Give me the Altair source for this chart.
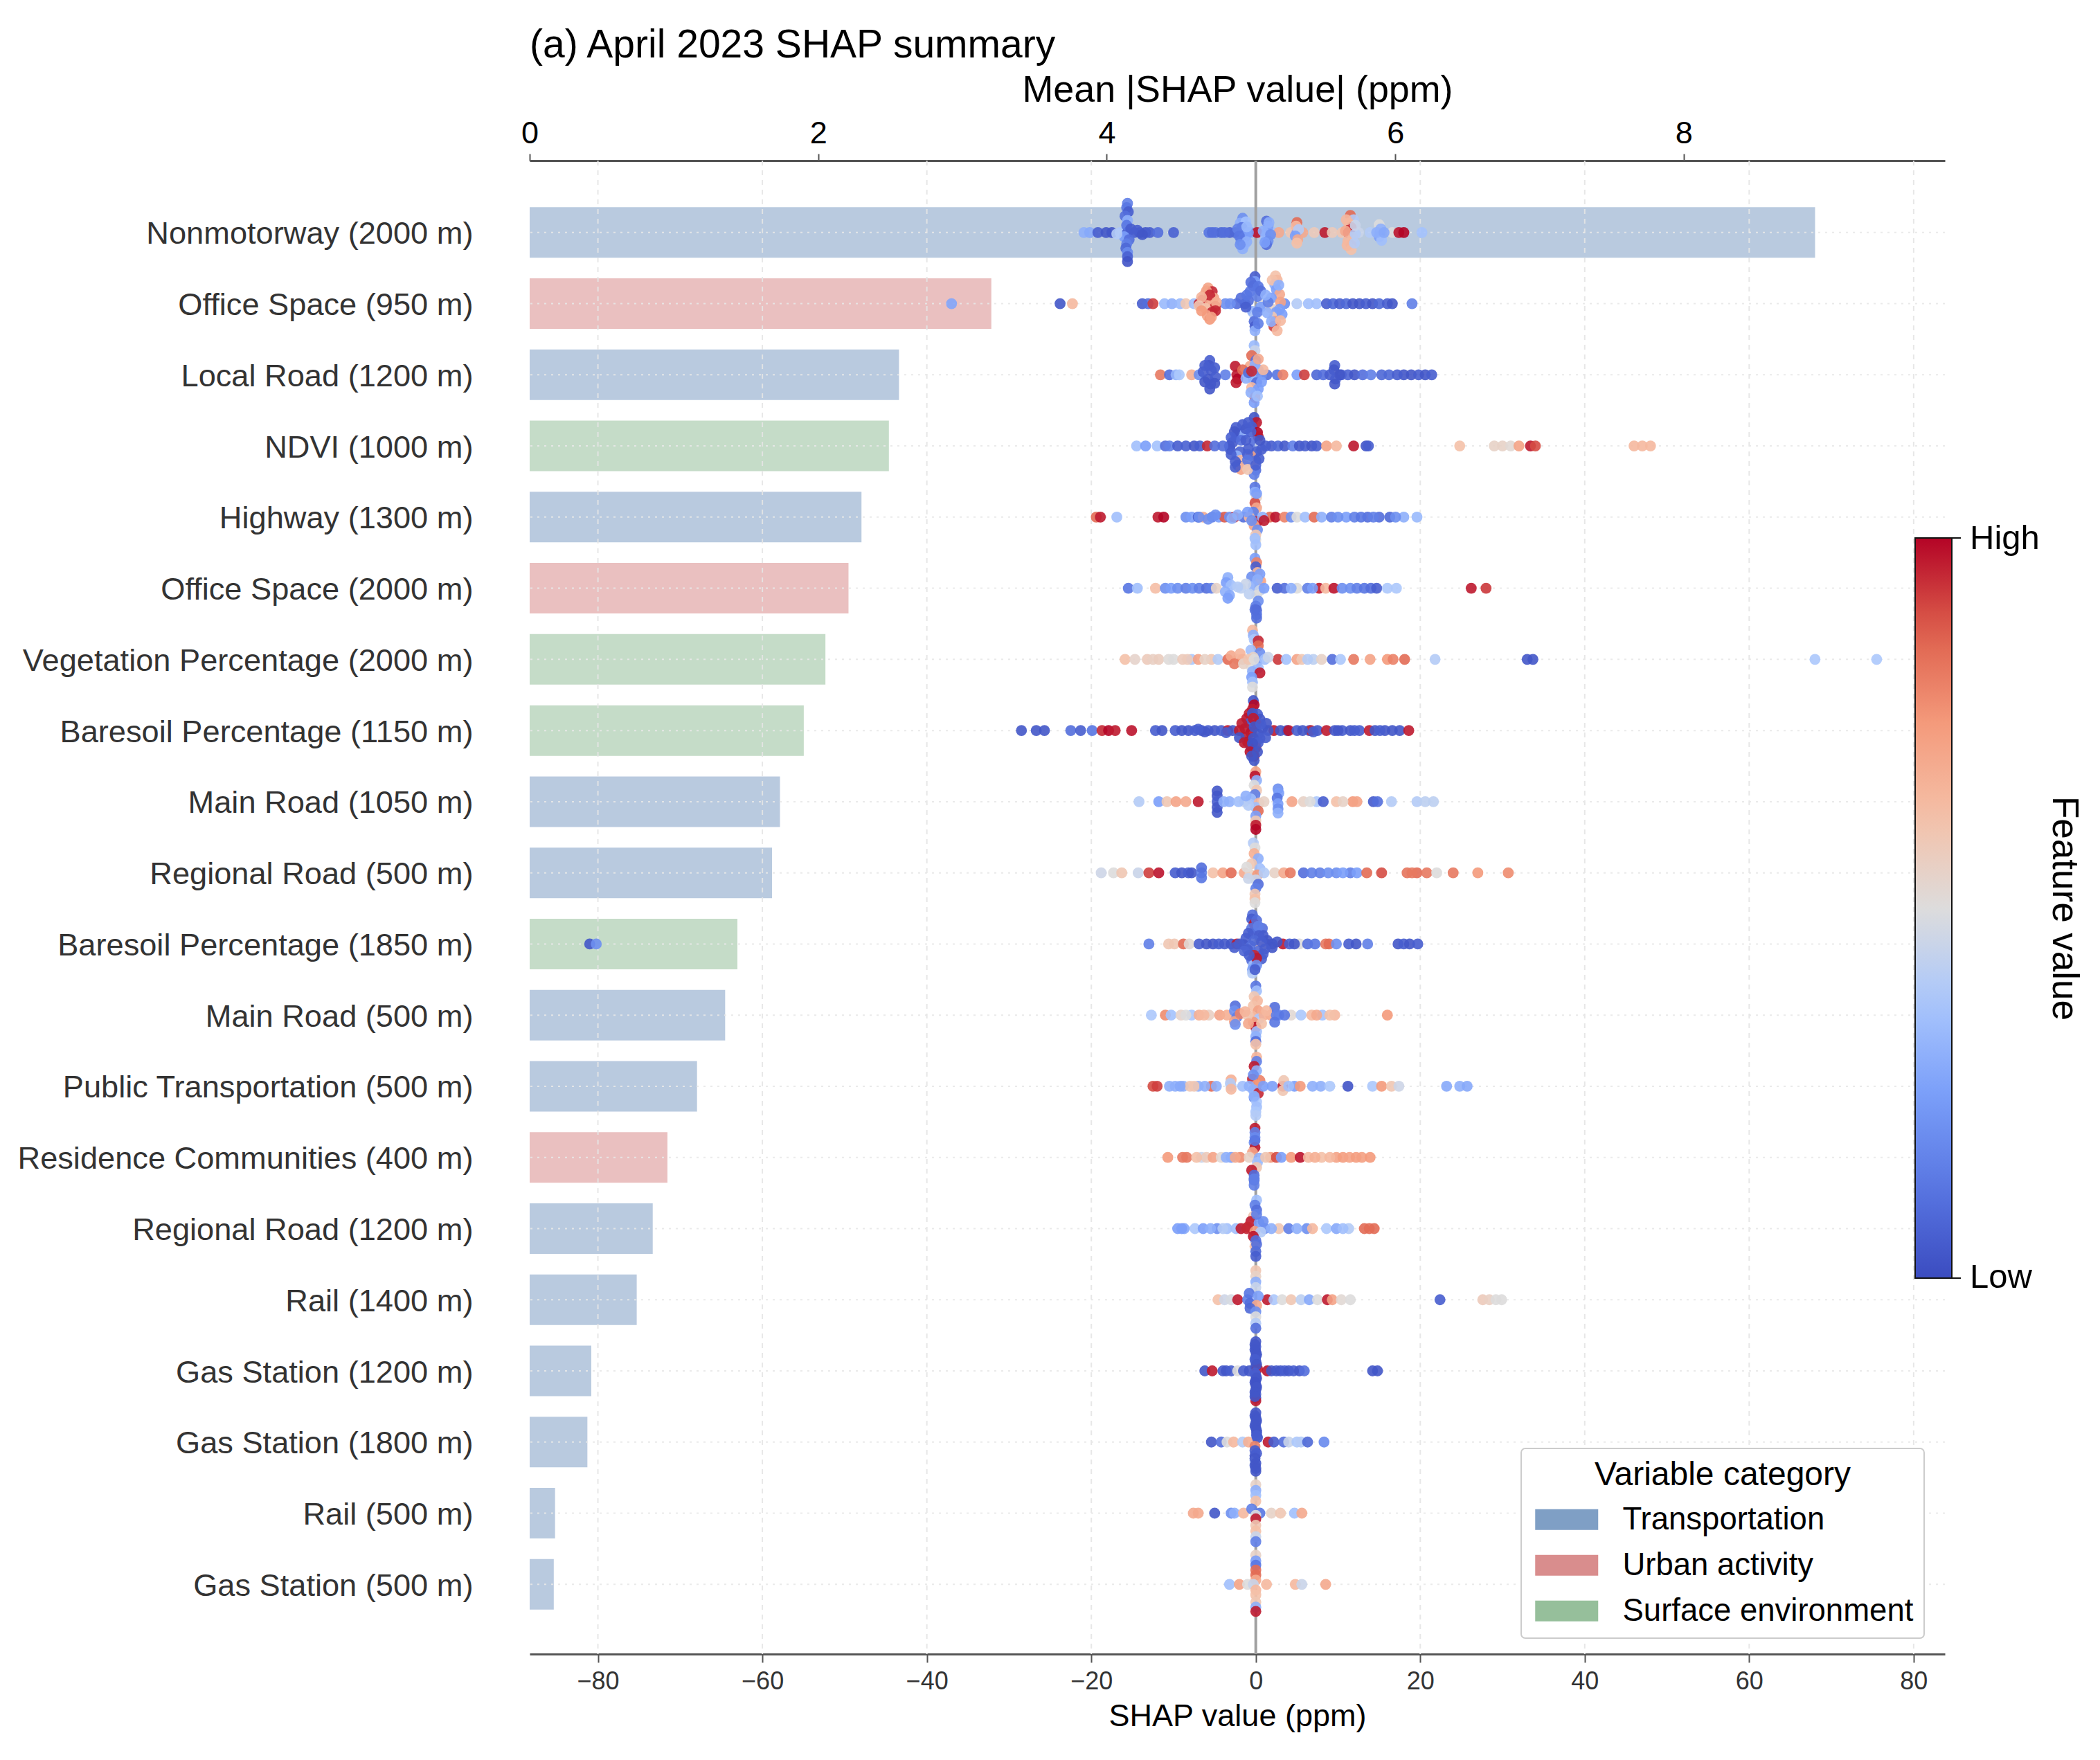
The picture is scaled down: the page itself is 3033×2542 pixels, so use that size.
import json
import altair as alt
import pandas as pd

FONT = "Liberation Sans"
features = ["Nonmotorway (2000 m)", "Office Space (950 m)", "Local Road (1200 m)", "NDVI (1000 m)",
            "Highway (1300 m)", "Office Space (2000 m)", "Vegetation Percentage (2000 m)",
            "Baresoil Percentage (1150 m)", "Main Road (1050 m)", "Regional Road (500 m)",
            "Baresoil Percentage (1850 m)", "Main Road (500 m)", "Public Transportation (500 m)",
            "Residence Communities (400 m)", "Regional Road (1200 m)", "Rail (1400 m)",
            "Gas Station (1200 m)", "Gas Station (1800 m)", "Rail (500 m)", "Gas Station (500 m)"]
T, U, S = "Transportation", "Urban activity", "Surface environment"
categories = [T, U, T, S, T, U, S, S, T, T, S, T, T, U, T, T, T, T, T, T]
mean_shap = [8.91, 3.20, 2.56, 2.49, 2.30, 2.21, 2.05, 1.90, 1.735, 1.68,
             1.44, 1.355, 1.16, 0.955, 0.853, 0.742, 0.427, 0.40, 0.176, 0.167]
cat_order = [T, U, S]
cat_colors = ["#7f9fc5", "#d98d8d", "#96bf9b"]
top_ticks = [0, 2, 4, 6, 8]
bottom_ticks = [-80, -60, -40, -20, 0, 20, 40, 60, 80]

# (shap, feature value) on the row's centre line
line_00 = [(-20.9,.3),(-20.2,.28),(-19.2,.05),(-18.2,.03),(-17.5,.03),(-16.5,.38),(-15.6,.05),(-14.8,.05),(-14.1,.03),(-13.4,.03),(-12.9,.05),(-11.9,.1),(-10.0,.06),
           (-5.7,.12),(-4.9,.12),(-4.2,.08),(-3.2,.06),(-2.5,.08),(-1.5,.2),(-.6,.3),(.15,.98),(1.35,.25),(2.1,.35),(2.8,.7),(4.25,.6),(5,.25),(5.7,.7),(7.1,.58),(8.4,.97),(9.3,.58),(10.5,.6),(11.25,.95),(12.5,.45),(13.9,.4),(15.1,.25),(16.6,.5),(17.4,.98),(18,1.0),(20.2,.36)]
arm_00 = [(-15.6,-.41,.15),(-15.7,-.35,.12),(-15.5,-.29,.05),(-15.9,-.23,.1),(-15.6,-.17,.3),(-15.7,-.1,.12),(-15.2,-.05,.05),(-16,.06,.25),(-15.4,.1,.1),(-15.7,.16,.15),(-15.8,.22,.08),(-15.6,.28,.18),(-15.6,.34,.06),(-15.6,.41,.02),
          (-1.6,-.2,.2),(-1.9,-.13,.3),(-1.2,-.15,.36),(-1.7,-.07,.12),(-1.3,.06,.25),(-1.8,.12,.2),(-1.4,.18,.33),(-1.6,.23,.3),(1.3,-.16,.1),(1.5,-.09,.25),(1.2,.06,.33),(1.5,.12,.2),(1.3,.17,.1),
          (5,-.14,.85),(4.9,-.09,.65),(5.2,-.04,.4),(4.8,.05,.25),(5.1,.1,.7),(5,.15,.62),
          (11.5,-.24,.85),(11.9,-.18,.4),(11.3,-.13,.65),(11.6,-.07,.95),(11.8,.07,.6),(11.2,.12,.65),(11.6,.18,.72),(11.6,.24,.62),
          (15,-.11,.5),(15.2,-.05,.3),(15,.06,.25),(15.3,.11,.35)]
extra_00 = [(-16.9,.02,.4),(-14.4,-.03,.05),(-13.8,.03,.03),(-2.2,-.05,.15),(-.9,.0,.25),(-1.1,-.08,.33),(-2,.05,.12),(-1.1,.13,.3),(-1.9,.17,.2),(.9,-.02,.3),(1.8,.03,.2),(1.6,-.14,.3),(1.1,.14,.25),(10.9,-.02,.7),(12.1,.02,.4),(11,-.18,.65),(12.1,-.1,.45),(11.1,.18,.65),(12,.15,.4),(14.7,.0,.3),(15.6,.0,.28),(-3.8,.0,.1),(-5.3,.0,.1)]
line_01 = [(-37.0,.27),(-23.8,.03),(-22.3,.65),(-13.8,.05),(-13.1,.1),(-12.5,.92),(-11.1,.33),(-10.2,.3),(-9.2,.33),(-8.5,.6),(-7.5,.35),(-6.9,.95),(-3.7,.2),(-2.3,.1),(-1.3,.08),(.9,.5),(3.5,.2),(5,.4),(6.4,.35),(7.4,.35),(8.6,.05),(9.4,.08),(10.2,.05),(11,.08),(11.8,.03),(12.6,.03),(13.4,.05),(14.2,.03),(15,.08),(16,.05),(16.6,.03),(19,.15)]
arm_01 = [(-5.8,-.22,.72),(-5.3,-.17,.95),(-6.2,-.13,.65),(-5.1,-.08,.72),(-6.5,-.05,.95),(-5.6,.01,.7),(-4.9,.04,.92),(-6.1,.07,.62),(-5.3,.12,.95),(-5.9,.17,.72),(-5.6,.22,.75),
          (-.1,-.38,.05),(-.1,-.31,.25),(-.3,-.25,.1),(-.7,-.17,.12),(.2,-.1,.15),(-.9,-.04,.1),(.6,.05,.25),(-.4,.11,.3),(-.1,.18,.4),(-.2,.25,.1),(-.1,.32,.05),(-.1,.38,.3),
          (2.4,-.39,.62),(2.6,-.33,.65),(2.3,-.27,.3),(2.5,-.2,.25),(2.9,-.13,.7),(1.9,-.08,.25),(3,-.02,.72),(1.8,.06,.55),(2.5,.12,.25),(2.2,.19,.6),(2.4,.25,.75),(2.2,.32,.92),(2.6,.38,.65)]
extra_01 = [(-6,-.18,.72),(-5.6,-.12,.95),(-6.6,-.09,.66),(-4.8,-.02,.68),(-6.9,.03,.6),(-6.6,.1,.75),(-4.9,.1,.95),(-5.4,.19,.72),(-3.1,.0,.2),(-1.8,-.08,.1),(-1.1,-.12,.12),(-.6,-.3,.1),(.3,-.24,.12),(-1.2,.05,.05),(.2,.12,.15),(.3,.28,.15),(.6,-.18,.1),(1.5,-.02,.15),(1.2,-.12,.3),(1.4,.13,.3),(2.9,.08,.25),(3.2,.15,.25),(1.9,.25,.3),(2,-.33,.62),(3,.24,.65),(2.8,-.26,.3)]
line_02 = [(-11.6,.82),(-10.5,.1),(-9.7,.32),(-9.3,.38),(-7.8,.68),(-6.9,.2),(-3.7,.15),(-2.3,.97),(1.35,.1),(2.6,.12),(3.3,.8),(5,.25),(5.9,.92),(7.4,.08),(8.2,.1),(10.4,.05),(11.2,.07),(12,.03),(13,.1),(14,.15),(15.3,.08),(16.2,.08),(18,.03),(18.9,.03),(19.8,.05),(20.6,.03),(21.4,.05)]
arm_02 = [(-5.6,-.2,.05),(-5.7,-.13,.03),(-5.4,-.06,.05),(-5.8,.06,.03),(-5.5,.13,.05),(-5.6,.2,.03),
          (-2.5,-.12,.97),(-2.2,.06,1),(-2.4,.11,.97),
          (-.2,-.41,.33),(-.1,-.34,.45),(-.5,-.27,.85),(0,-.2,.1),(-.7,-.12,.7),(.3,-.07,.25),(-.3,.06,.3),(.1,.11,.1),(-.5,.18,.65),(0,.25,.3),(-.1,.32,.85),(-.2,.39,.25),
          (9.6,-.13,.05),(9.5,-.07,.03),(9.7,.06,.05),(9.6,.13,.03)]
extra_02 = [(-6.4,-.04,.05),(-4.9,.03,.05),(-6.2,.1,.03),(-5,-.1,.05),(-6.2,-.13,.05),(-5,.12,.03),(-1.6,-.07,.85),(-1.2,.05,.3),(-.9,-.03,.1),(.7,.0,.2),(.9,-.07,.65),(.7,.1,.25),(-.1,-.14,.3),(.3,.2,.25),(-.6,.25,.3),(.3,-.22,.7),(.2,.3,.35),(-.5,-.05,.95),(10.2,.0,.03),(9,.0,.05),(17.2,.0,.05)]
line_03 = [(-14.5,.35),(-13.4,.25),(-12,.36),(-11,.1),(-10.5,.15),(-9.5,.05),(-8.5,.06),(-7.5,.03),(-6.8,.05),(-5.9,.95),(-5,.1),(1.9,.05),(2.7,.08),(3.5,.04),(4.5,.15),(5.3,.03),(6,.05),(6.8,.03),(7.4,.05),(8.6,.72),(9.8,.65),(11.9,.97),(13.4,.03),(13.7,.05),
           (24.8,.62),(29,.55),(30,.55),(31,.52),(32,.72),(33.4,.97),(34,.9),(46,.65),(47,.65),(48,.65)]
arm_03 = [(-2.2,-.18,.03),(-2.4,-.12,.05),(-1.5,-.16,.3),(-2.8,-.05,.04),(-1.8,-.08,.1),(-3.1,.05,.03),(-1.9,.08,.06),(-2.3,.14,.3),(-1.8,.2,.65),(-2.2,.27,.03),(-1.8,.33,.72),(-1.3,.28,.66),
          (-.2,-.4,.03),(.1,-.33,.97),(-.5,-.27,.05),(.2,-.19,1),(.3,-.13,.97),(-.2,-.06,.1),(.5,.0,.45),(.1,.08,.06),(-.6,.14,.72),(0,.21,.08),(-.3,.28,.65),(0,.34,.1),(-.2,.4,.15)]
extra_03 = [(-2.4,-.26,.05),(-1.6,-.3,.05),(-2.6,-.2,.03),(-1.2,-.24,.04),(-3,-.12,.06),(-1.2,-.08,.05),(-3.2,0,.04),(-4,.0,.1),(-.9,.04,.05),(-3,.12,.05),(-1,.12,.06),(-2.5,.22,.05),(-1,.2,.12),(-2.5,.3,.05),(-.6,-.2,.06),(-.9,-.33,.05),(.7,.05,.05),(1.2,.0,.05),(.5,-.08,.03),(.4,.18,.05),(-1,.33,.6),(0,.27,.06)]
line_04 = [(-19.4,.85),(-18.9,.97),(-16.9,.35),(-11.9,.97),(-11.2,1),(-8.5,.2),(-7.8,.25),(-7,.05),(-6.4,.7),(-5.3,.15),(-4.5,.25),(-3.8,.88),(-3.2,.2),(-2.6,.95),(-1.5,.1),(1.7,.85),(2.4,.98),(3.5,.8),(4.3,.2),(5,.5),(6,.35),(7.1,.85),(8,.3),(9.2,.15),(11,.25),(12,.15),(13.6,.1),(15,.1),(16.3,.08),(18,.3),(19.6,.33)]
arm_04 = [(-.1,-.42,.12),(-.1,-.35,.3),(.1,-.28,.55),(-.1,-.2,.9),(.1,-.13,.7),(-.3,-.07,.15),(.2,.06,.95),(-.2,.12,.72),(.2,.18,.2),(0,.25,.6),(0,.32,.5),(0,.39,.35)]
extra_04 = [(-.8,.0,.65),(.8,.0,.3),(-2.2,-.03,.3),(-1,-.07,.25),(1,.05,.97),(-5.8,.03,.2),(-4.9,-.03,.2),(-2.9,.02,.3),(-.5,.05,.2),(10,.0,.2),(14.3,.0,.15),(12.8,.0,.12),(17,.0,.2),(-6.9,.0,.2),(-.1,.3,.35),(.1,-.33,.25)]
line_05 = [(-15.5,.12),(-14.4,.35),(-12.2,.63),(-11,.2),(-10.3,.25),(-9.5,.2),(-8.5,.15),(-7.7,.2),(-6.9,.15),(-6,.1),(-5.4,.15),(-4.8,.55),(2.6,.05),(3.5,.1),(5,.5),(6.3,.15),(7.7,.97),(8.5,.65),(9.5,.98),(11.5,.2),(12.3,.15),(13.2,.12),(14,.1),(14.7,.05),(16,.38),(17.1,.38),(26.2,.97),(28,.93)]
arm_05 = [(-3.4,-.15,.3),(-3.6,-.08,.25),(-3,-.04,.35),(-3.7,.05,.3),(-3.2,.1,.28),(-3.4,.14,.25),
          (-.1,-.42,.25),(.1,-.36,.8),(0,-.3,.05),(.2,-.22,.65),(-.5,-.16,.2),(.6,-.1,.72),(-.3,-.03,.3),(.5,.03,.45),(.1,.1,.5),(.3,.18,.2),(0,.25,.15),(.1,.31,.08),(.1,.37,.12),(.1,.42,.1)]
extra_05 = [(-1.8,.0,.42),(-1.2,-.06,.45),(-2.2,-.02,.4),(1,.0,.25),(-.8,.08,.42),(.5,-.2,.25),(4.3,.0,.3),(10.5,.0,.2),(6.9,.0,.25),(-.1,.3,.1),(.2,-.12,.3)]
line_06 = [(-15.9,.62),(-14.7,.54),(-13.2,.58),(-12.5,.56),(-11.8,.57),(-10.6,.51),(-10,.5),(-8.9,.58),(-7.8,.38),(-7,.72),(-5.4,.6),(-4.6,.4),(-3.4,.85),(-2.2,.6),(-1.6,.75),(2.7,.93),(3.7,.36),(5,.72),(5.6,.6),(7,.42),(8,.55),(9.3,.1),(10.3,.38),(11.9,.82),(13.9,.72),(16,.75),(16.7,.8),(18.1,.85),(21.8,.4),(33,.03),(33.7,.03),(68,.38),(75.5,.38)]
arm_06 = [(-.4,-.41,.65),(-.3,-.34,.3),(-.2,-.28,.38),(.3,-.26,.95),(.3,-.19,.85),(-.6,-.13,.35),(.5,-.09,.2),(-.3,-.03,.55),(.1,.04,.2),(-.6,.09,.5),(.3,.12,.35),(-.4,.17,.3),(.5,.19,.97),(-.5,.25,.25),(-.4,.32,.35),(-.4,.39,.5)]
extra_06 = [(-3,-.05,.7),(-2.6,.06,.82),(-1.9,-.08,.66),(-1.5,.06,.55),(-.9,.0,.6),(1.1,.0,.35),(1.5,-.03,.45),(-6.2,.0,.55),(-8.3,.0,.58),(6.3,.0,.4),(-.2,.0,.5)]
line_07 = [(-28.5,.03),(-26.7,.03),(-25.7,.03),(-22.5,.1),(-21.3,.05),(-19.9,.12),(-18.7,.95),(-17.9,1),(-17.1,.97),(-15.1,.98),(-12.2,.05),(-11.4,.03),(-9.8,.05),(-9,.03),(-8.2,.03),(-7.4,.05),(-6.6,.03),(-5.8,.05),(-5,.03),(-4.2,.05),(-3.4,.97),(-2.8,.03),(2.2,.97),(3,.03),(3.8,.03),(4,.98),(5,.05),(6.5,.03),(6.7,.95),(7.5,.03),(8.6,.97),(9.6,.03),(10.5,.05),(11.5,.03),(12.6,.05),(13.8,.97),(15.7,.03),(16.6,.03),(17.5,.03),(18.6,.97)]
arm_07 = [(-.3,-.42,.03),(-.2,-.36,1),(-.4,-.3,.97),(-.8,-.24,.97),(.2,-.23,.05),(-1.1,-.17,.98),(.5,-.16,.03),(-.8,-.1,.05),(.1,-.09,.97),(-1.3,-.03,.97),(.8,-.03,.05),(-.6,.03,.98),(.3,.05,.03),(-1.2,.09,.97),(.5,.11,.05),(-1,.16,.98),(0,.17,.03),(-.6,.23,.03),(0,.24,.97),(-.3,.3,.03),(-.2,.36,.97),(-.2,.42,.03)]
extra_07 = [(-.4,-.24,.03),(-.3,-.17,.97),(-1.7,-.1,.97),(-2,.0,.97),(1.3,-.1,.03),(1.5,.0,.03),(1.2,.1,.05),(-2,.1,.03),(-.2,-.05,.03),(.6,-.09,.05),(-.3,.11,.03),(.3,.17,.05),(-1.4,.17,.97),(-.4,.18,.02),(-.7,.3,.98),(.2,.3,.03),(-.5,.36,.03),(-3.6,.03,.05),(-6.2,.02,.03),(-7,-.02,.05),(5.7,.0,.03),(7,.02,.05),(10,.0,.03),(12,.0,.05),(14.5,.0,.03),(15.1,.0,.05)]
line_08 = [(-14.2,.4),(-11.8,.25),(-10.8,.6),(-9.7,.72),(-8.5,.7),(-7,.97),(-3.2,.3),(-1.4,.45),(4.4,.72),(5.8,.55),(7.4,.38),(8.2,.05),(9.8,.62),(11.8,.75),(12.3,.72),(14.3,.04),(14.8,.1),(16.5,.4),(19.6,.4),(20.6,.42),(21.6,.42)]
arm_08 = [(-4.7,-.15,.03),(-4.7,-.08,.03),(-4.7,0,.05),(-4.7,.08,.03),(-4.7,.15,.03),
          (0,-.42,.72),(-.1,-.36,.98),(.1,-.3,.3),(-.2,-.23,.5),(.1,-.16,.6),(-.1,-.1,.15),(-.6,-.04,.35),(.4,.02,.65),(0,.08,.35),(.3,.13,.85),(0,.2,.25),(0,.27,.6),(0,.33,.97),(0,.39,1),
          (2.7,-.18,.2),(2.8,-.12,.25),(2.6,-.05,.12),(2.7,.03,.25),(2.7,.1,.2),(2.7,.16,.3)]
extra_08 = [(-.9,.05,.4),(-2.1,.0,.35),(1,.0,.55),(-1.2,-.08,.3),(-3.9,.0,.3),(6.6,.0,.5),(10.6,.0,.55)]
line_09 = [(-18.8,.46),(-17.3,.5),(-16.3,.6),(-14.3,.45),(-13,.92),(-11.8,.98),(-9.8,.05),(-9,.03),(-8.2,.05),(-7.8,.03),(-6.6,.15),(-5.2,.62),(-4,.72),(-3,.85),(-1.4,.7),(2.3,.55),(3.4,.7),(4.2,.82),(5.8,.1),(7.8,.15),(9.8,.2),(11.5,.15),(12.3,.25),(13.5,.85),(15.3,.9),(18.4,.83),(19.6,.85),(20.8,.82),(22,.5),(24,.82),(27,.75),(30.7,.78)]
arm_09 = [(-6.6,-.07,.1),(-6.6,.07,.12),(-.3,-.42,.4),(-.1,-.35,.5),(-.2,-.27,.68),(.3,-.2,.3),(-.5,-.13,.6),(.5,-.06,.35),(-.7,.02,.55),(.2,.03,.75),(0,.1,.45),(.3,.16,.1),(0,.22,.15),(-.1,.3,.6),(-.1,.37,.62),(-.1,.42,.5)]
extra_09 = [(-1.1,-.08,.5),(-.9,.08,.45),(1,.0,.4),(6.8,.0,.15),(8.8,.0,.2),(10.6,.0,.25),(19,.0,.82)]
line_10 = [(-81,.03),(-80.2,.2),(-13,.15),(-10.6,.6),(-9.9,.6),(-8.8,.85),(-8.1,.52),(-6.9,.05),(-6,.03),(-5.2,.03),(-4.5,.05),(-3.8,.04),(-3,.03),(-2.3,.97),(1.3,.03),(2,.06),(3.3,.97),(4.1,.06),(5.3,.5),(6.3,.1),(7.2,.12),(8.5,.82),(8.9,.85),(9.8,.2),(11.3,.05),(12.2,.03),(13.6,.15),(17.3,.03),(18,.05),(18.7,.03),(19.7,.05)]
arm_10 = [(-.4,-.41,.1),(-.5,-.35,.05),(-.2,-.28,.97),(-.5,-.22,.12),(.8,-.22,.1),(-.3,-.15,.1),(.9,-.12,.04),(-1.2,-.08,.05),(1.4,-.05,.03),(-1.5,.01,.03),(-.6,.03,.1),(.6,.04,.6),(-1,.08,.05),(.3,.1,.1),(.9,.14,.05),(-.2,.16,.95),(.7,.21,.05),(-.5,.23,.1),(-.3,.3,.35),(-.4,.36,.25),(-.4,.41,.4)]
extra_10 = [(.1,-.33,.1),(.3,-.25,.15),(-.9,-.15,.05),(.4,-.12,.05),(-.2,-.05,.08),(.7,-.03,.05),(-2,.0,.05),(2,.05,.03),(-1.4,.1,.07),(1.1,.07,.05),(.1,.2,.97),(-.8,.16,.05),(.1,.3,.2),(-.1,.36,.05),(-2.6,.05,.05),(2.6,-.03,.03),(4.7,.0,.03)]
line_11 = [(-12.7,.38),(-11,.78),(-10.3,.36),(-9.1,.54),(-7.8,.38),(-6.9,.68),(-5.7,.56),(-4.4,.72),(-3.5,.68),(1.8,.7),(2.8,.18),(4.3,.52),(5.5,.38),(6.8,.65),(8.1,.36),(9.6,.65),(16,.75)]
arm_11 = [(-2.5,-.13,.1),(-2.6,-.06,.2),(-2.3,.03,.15),(-2.6,.09,.72),(-2.5,.13,.2),(-1.9,-.02,.8),(2.3,-.11,.1),(2.5,.0,.15),(2.3,.1,.12),
          (0,-.41,.12),(.1,-.34,.35),(-.2,-.26,.6),(.2,-.2,.65),(-.3,-.13,.62),(.3,-.06,.72),(-.4,.02,.65),(.4,.05,.38),(-.3,.1,.75),(0,.17,.97),(.1,.23,.35),(0,.3,.3),(0,.37,.1),(0,.41,.62)]
extra_11 = [(-1,.0,.6),(-1.3,-.05,.66),(1,.0,.68),(1.3,-.06,.65),(.7,.12,.62),(-.9,.12,.7),(3.5,.0,.12),(-8.5,.0,.5),(-6.3,.0,.65),(7.4,.0,.7),(9,.0,.62)]
line_12 = [(-12.5,.9),(-12,.92),(-10.5,.3),(-9.8,.3),(-8.8,.3),(-8,.6),(-7,.3),(-5.4,.85),(-4.8,.3),(-3,.4),(-1.6,.35),(3.3,.97),(4.7,.25),(5.4,.75),(6.9,.3),(7.9,.3),(9,.38),(11.2,.02),(14.2,.38),(15.3,.75),(16.5,.6),(17.4,.46),(23.2,.28),(24.8,.3),(25.7,.28)]
arm_12 = [(-3,-.09,.68),(-3.1,-.04,.4),(-3,.04,.65),(3.4,-.08,.6),(3.3,.06,.6),
          (.1,-.41,.66),(.1,-.35,.15),(-.2,-.28,.97),(.1,-.22,.3),(-.4,-.1,.95),(.5,-.08,.8),(.1,-.02,.75),(-.3,.05,.3),(.3,.1,.95),(-.2,.16,.2),(.1,.22,.38),(.1,.29,.35),(0,.36,.38),(0,.41,.4)]
extra_12 = [(-.8,.0,.3),(.9,.0,.25),(-.3,-.16,.2),(-.2,.14,.3),(-9.2,.0,.28),(-7.5,.0,.6),(-6.2,.0,.3),(2,.0,.25),(4,.0,.35)]
line_13 = [(-10.7,.75),(-8.9,.82),(-8.4,.82),(-6.6,.45),(-6,.58),(-5.2,.72),(-4.2,.52),(-3,.25),(-1.9,.78),(1.8,.75),(2.5,.9),(3.1,.25),(4.3,.75),(5.4,.98),(6.4,.65),(8,.62),(9.8,.72),(10.6,.74),(11.4,.72),(12.2,.74),(12.9,.73),(13.9,.75)]
arm_13 = [(-.1,-.41,.97),(-.1,-.35,.15),(-.1,-.28,.18),(-.2,-.21,.2),(-.1,-.14,.97),(-.4,-.07,.72),(-.8,.0,.55),(.4,.01,.3),(.2,.07,.35),(.1,.14,.6),(-.5,.18,.97),(-.2,.25,.1),(-.2,.32,.08),(-.2,.39,.15)]
extra_13 = [(-.2,.3,.15),(-.1,-.24,.12),(-7.2,.0,.62),(-3.6,.0,.3),(-2.5,.0,.7),(7.2,.0,.68),(9,.0,.65),(1.2,.0,.6)]
line_14 = [(-9.5,.25),(-8.7,.28),(-7.4,.38),(-6.4,.25),(-4.7,.2),(-3.5,.35),(-2.4,.35),(-1.8,.97),(-1.1,.95),(1.1,.2),(2.8,.6),(4,.15),(6.2,.2),(6.9,.65),(8.6,.38),(9.8,.28),(11.3,.4),(13.2,.85),(14.4,.85)]
arm_14 = [(.1,-.4,.35),(-.1,-.33,.15),(.1,-.26,.1),(-.3,-.17,.6),(-.6,-.1,.97),(.4,-.08,.25),(-1,-.02,.95),(-.1,.04,.75),(.6,.05,.4),(-.3,.11,.98),(0,.17,.1),(-.1,.25,.62),(0,.32,.08),(0,.39,.05)]
extra_14 = [(-9,.0,.25),(-5.5,.0,.3),(-4,.0,.4),(1.9,.0,.3),(5,.0,.3),(10.6,.0,.35),(13.8,.0,.85),(.9,-.1,.2),(.1,-.2,.15),(.1,.22,.1)]
line_15 = [(-4.6,.62),(-3.8,.46),(-3,.48),(-2.2,.97),(-1,.15),(1.4,.97),(2.2,.38),(3.2,.5),(4.3,.6),(5.5,.42),(6.5,.28),(7.5,.5),(8.7,.97),(9.3,.72),(10.4,.52),(11.5,.5),(22.4,.05),(27.6,.58),(28.4,.56),(29.2,.5),(29.9,.5)]
arm_15 = [(0,-.41,.6),(0,-.33,.55),(0,-.25,.3),(0,-.17,.45),(-.8,-.09,.12),(.3,-.05,.25),(-.7,.05,.1),(.1,.08,.7),(-.7,.12,.08),(0,.17,.2),(0,.24,.5),(0,.33,.4),(0,.4,.1)]
line_16 = [(-6.2,.03),(-5.3,.97),(-4,.04),(-3.6,.03),(-3,.05),(-2.2,.5),(-1.5,.05),(-.8,.03),(1.4,.98),(1.9,.03),(2.5,.03),(3,.03),(3.5,.05),(4,.03),(4.6,.05),(5.3,.03),(5.9,.1),(14.2,.03),(14.8,.03)]
arm_16 = [(0,-.41,.03),(0,-.34,.05),(0,-.27,.02),(0,-.2,.05),(0,-.13,.03),(0,-.06,.02),(.2,-.03,.97),(0,.06,.05),(0,.13,.03),(0,.2,.02),(0,.27,.03),(0,.33,.05),(0,.38,.03),(0,.42,.97)]
extra_16 = [(-.1,-.37,.03),(-.1,-.3,.03),(.1,-.23,.03),(-.1,-.16,.05),(.1,-.09,.03),(-.1,.03,.05),(.1,.1,.03),(-.1,.16,.02),(.1,.23,.03),(-.1,.3,.03),(-.1,.36,.03)]
line_17 = [(-5.4,.03),(-4.2,.1),(-3.5,.5),(-2.7,.65),(-1.6,.4),(-.9,.68),(1.5,.97),(2.2,.05),(3.4,.1),(4,.45),(5,.38),(5.5,.4),(6.3,.08),(8.3,.18)]
arm_17 = [(0,-.41,.03),(0,-.34,.03),(0,-.27,.05),(0,-.2,.03),(.1,-.13,.05),(.2,-.06,.03),(-.1,.06,.8),(-.1,.12,.05),(-.1,.19,.03),(-.1,.26,.4),(-.1,.33,.05),(0,.41,.03)]
extra_17 = [(-.1,-.37,.03),(.1,-.3,.03),(-.1,-.23,.03),(.1,-.16,.03),(.1,-.09,.05),(.1,.16,.05),(-.1,.23,.03),(0,.3,.03),(0,.37,.03)]
line_18 = [(-7.6,.7),(-7,.7),(-5,.03),(-3,.2),(-2.6,.3),(-1.5,.65),(1.9,.55),(3,.6),(4.7,.35),(5.6,.7)]
arm_18 = [(0,-.4,.55),(0,-.32,.3),(0,-.25,.35),(0,-.17,.62),(-.5,-.06,.15),(.5,.0,.12),(0,.03,.5),(0,.08,.97),(0,.17,.6),(0,.25,.62),(0,.33,.45),(0,.4,.15)]
line_19 = [(-3.2,.35),(-2,.72),(-1,.5),(1.3,.65),(4.8,.65),(5.6,.45),(8.5,.7)]
arm_19 = [(0,-.41,.55),(0,-.33,.25),(0,-.27,.12),(0,-.2,.85),(0,-.13,.85),(0,-.06,.7),(-.3,.0,.45),(0,.08,.65),(0,.15,.62),(0,.25,.6),(0,.32,.3),(0,.38,.97)]

lines = [line_00, line_01, line_02, line_03, line_04, line_05, line_06, line_07, line_08, line_09,
         line_10, line_11, line_12, line_13, line_14, line_15, line_16, line_17, line_18, line_19]
arms = [arm_00, arm_01, arm_02, arm_03, arm_04, arm_05, arm_06, arm_07, arm_08, arm_09,
        arm_10, arm_11, arm_12, arm_13, arm_14, arm_15, arm_16, arm_17, arm_18, arm_19]
extras = {0: extra_00, 1: extra_01, 2: extra_02, 3: extra_03, 4: extra_04, 5: extra_05, 6: extra_06,
          7: extra_07, 8: extra_08, 9: extra_09, 10: extra_10, 11: extra_11, 12: extra_12, 13: extra_13,
          14: extra_14, 16: extra_16, 17: extra_17}

recs = []
for r in range(20):
    for x, v in lines[r]:
        recs.append({"shap": x, "pos": r, "v": v})
    for x, dy, v in arms[r] + extras.get(r, []):
        recs.append({"shap": x, "pos": r + dy, "v": v})
points = pd.DataFrame(recs)
points["idx"] = range(len(points))
bars = pd.DataFrame({"row": list(range(20)), "mean": mean_shap, "cat": categories})

W, H = 2044, 2157
yscale = alt.Scale(domain=[19.98, -1.01], nice=False, zero=False, padding=0)
xtop = alt.Scale(domain=[0, 9.81], nice=False, zero=False, padding=0)
xbot = alt.Scale(domain=[-88.3, 83.8], nice=False, zero=False)
label_expr = json.dumps(features) + "[datum.value]"

bar_layer = alt.Chart(bars).mark_bar(height=73, orient="horizontal", opacity=0.55).encode(
    x=alt.X("mean:Q", scale=xtop, stack=None, axis=alt.Axis(
        orient="top", values=top_ticks, title="Mean |SHAP value| (ppm)", grid=False,
        labelFontSize=45, labelColor="#000", labelFont=FONT, labelPadding=7, format="d", labelFlush=False,
        titleFontSize=53.8, titleFont=FONT, titleColor="#000", titleFontWeight="normal", titlePadding=13,
        domainColor="#555", domainWidth=3, tickColor="#555", tickWidth=2, tickSize=10)),
    y=alt.Y("row:Q", scale=yscale, axis=alt.Axis(
        values=list(range(20)), labelExpr=label_expr, title=None, grid=False, domain=False, ticks=False,
        labelFontSize=45.2, labelFont=FONT, labelColor="#333", labelPadding=82, labelLimit=900,
        labelOverlap=False, labelOffset=2)),
    color=alt.Color("cat:N", scale=alt.Scale(domain=cat_order, range=cat_colors), legend=alt.Legend(
        orient="none", legendX=1432, legendY=1860, title="Variable category", titleFontSize=48,
        titleFont=FONT, titleFontWeight="normal", titleColor="#000", titleAnchor="middle", titleAlign="center",
        titlePadding=17, labelFontSize=45.5, labelFont=FONT, labelColor="#000", labelOffset=58,
        symbolType="M-2.275,-0.75H2.275V0.75H-2.275Z", symbolSize=1600, symbolOpacity=1, symbolStrokeWidth=0,
        symbolOffset=28, rowPadding=19, padding=15, fillColor="#fff", strokeColor="#ccc",
        cornerRadius=6, labelLimit=600, titleLimit=600)),
)

vgrid = alt.Chart(pd.DataFrame({"g": bottom_ticks})).mark_rule(
    color="#e4e4e4", strokeWidth=2, strokeDash=[7, 7], opacity=0.9).encode(
    x=alt.X("g:Q", scale=xbot, axis=None))
hgrid = alt.Chart(pd.DataFrame({"r": list(range(20))})).mark_rule(
    color="#e8e8e8", strokeWidth=2, strokeDash=[3, 7], opacity=0.9).encode(
    y=alt.Y("r:Q", scale=yscale))
zero = alt.Chart(pd.DataFrame({"z": [0]})).mark_rule(color="#a0a0a0", strokeWidth=4).encode(
    x=alt.X("z:Q", scale=xbot, axis=None))

stops = [0, .125, .25, .375, .5, .625, .75, .875, 1]
stop_colors = ["#3b4cc0", "#5977e3", "#7b9ff9", "#aac7fd", "#dddcdc", "#f5c0a7", "#f49a7b", "#dd5f4b", "#b40426"]
pts = alt.Chart(points).mark_circle(size=250, opacity=0.9).encode(
    x=alt.X("shap:Q", scale=xbot, axis=alt.Axis(
        values=bottom_ticks, title="SHAP value (ppm)", grid=False, orient="bottom", labelFlush=False,
        labelFontSize=36, labelFont=FONT, labelColor="#333", labelPadding=10,
        titleFontSize=45, titleFont=FONT, titleColor="#000", titleFontWeight="normal", titlePadding=10,
        domainColor="#555", domainWidth=3, tickColor="#555", tickWidth=2, tickSize=12)),
    y=alt.Y("pos:Q", scale=yscale),
    color=alt.Color("v:Q", scale=alt.Scale(domain=stops, range=stop_colors, interpolate="rgb"), legend=alt.Legend(
        type="gradient", orient="none", legendX=2001, legendY=545, title=None, values=[0.0005, 0.9995],
        gradientLength=1069, gradientThickness=53, gradientStrokeColor="#111", gradientStrokeWidth=2, gradientOpacity=1,
        labelExpr="datum.value >= 0.5 ? 'High' : 'Low'", labelFontSize=49, labelFont=FONT, labelColor="#000",
        labelOffset=26)),
    order=alt.Order("idx:Q"),
)

caption = alt.Chart(pd.DataFrame({"t": ["Feature value"]})).mark_text(
    angle=90, fontSize=53, font=FONT, color="#000").encode(
    x=alt.value(2216), y=alt.value(1080), text="t:N")
cbar_top = alt.Chart(pd.DataFrame({"k": [0]})).mark_rule(color="#111", strokeWidth=2).encode(
    x=alt.value(2054), x2=alt.value(2067), y=alt.value(545))
cbar_low = alt.Chart(pd.DataFrame({"k": [0]})).mark_rule(color="#111", strokeWidth=2).encode(
    x=alt.value(2054), x2=alt.value(2067), y=alt.value(1614))

chart = alt.layer(bar_layer, vgrid, hgrid, zero, pts, caption, cbar_top, cbar_low).resolve_scale(
    x="independent", color="independent").properties(
    width=W, height=H,
    autosize=alt.AutoSizeParams(type="none"),
    padding={"left": 757, "top": 224, "right": 216, "bottom": 145},
    title=alt.TitleParams("(a) April 2023 SHAP summary", anchor="start", frame="group", font=FONT,
                          fontSize=57, fontWeight="normal", color="#000", offset=8),
).configure_view(stroke=None).configure_legend(strokeWidth=2)

chart.save("out.html", embed_options={"renderer": "svg", "actions": False})
